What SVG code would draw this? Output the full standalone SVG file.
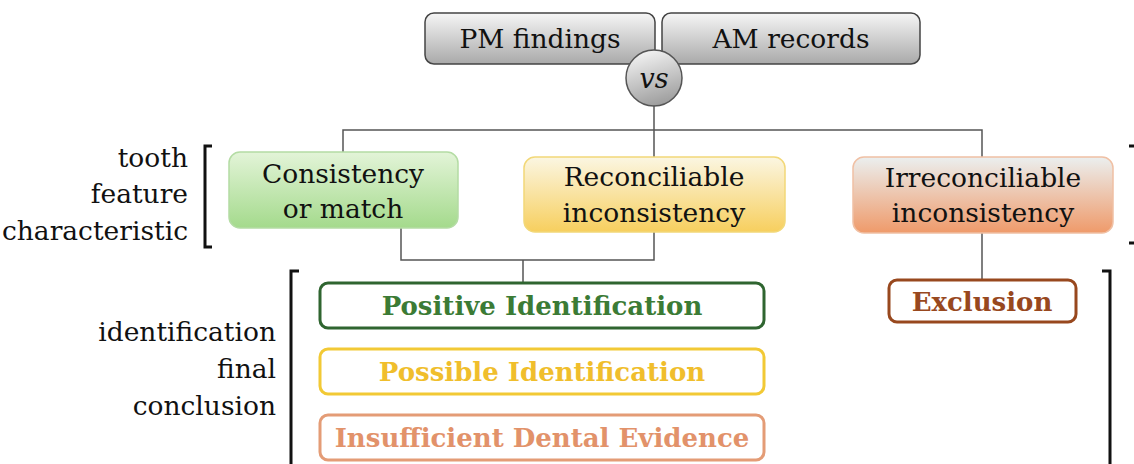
<svg xmlns="http://www.w3.org/2000/svg" width="1134" height="464" viewBox="0 0 1134 464">
<defs>
<style>
.t{font-family:"DejaVu Serif","Liberation Serif","Times New Roman",serif;font-size:26.5px;fill:#111;}
.m{text-anchor:middle;}
.r{text-anchor:end;}
.b{font-family:"DejaVu Serif","Liberation Serif","Times New Roman",serif;font-size:26px;font-weight:bold;text-anchor:middle;}
.ln{fill:none;stroke:#555;stroke-width:1.5;}
.br{fill:none;stroke:#111;stroke-width:3;}
.out{fill:#fff;stroke-width:3;}
</style>
<linearGradient id="gGray" x1="0" y1="0" x2="0" y2="1">
<stop offset="0" stop-color="#f6f6f6"/><stop offset="1" stop-color="#a9a9a9"/>
</linearGradient>
<linearGradient id="gCirc" x1="0.3" y1="0" x2="0.6" y2="1">
<stop offset="0" stop-color="#f4f4f4"/><stop offset="1" stop-color="#9c9c9c"/>
</linearGradient>
<linearGradient id="gGreen" x1="0" y1="0" x2="0" y2="1">
<stop offset="0" stop-color="#e3f4d8"/><stop offset="1" stop-color="#a4da8c"/>
</linearGradient>
<linearGradient id="gYel" x1="0" y1="0" x2="0" y2="1">
<stop offset="0" stop-color="#fbf6e2"/><stop offset="1" stop-color="#f7cf5e"/>
</linearGradient>
<linearGradient id="gOr" x1="0" y1="0" x2="0" y2="1">
<stop offset="0" stop-color="#ebefef"/><stop offset="1" stop-color="#ef9a6a"/>
</linearGradient>
</defs>
<rect width="1134" height="464" fill="#fff"/>

<g id="connectors">
<path class="ln" d="M654 105 V157"/>
<path class="ln" d="M343 152 V130 H982 V157"/>
<path class="ln" d="M401 228 V260 H654 V232"/>
<path class="ln" d="M523 260 V283"/>
<path class="ln" d="M982 233 V280"/>
</g>

<g id="brackets">
<path class="br" d="M212 146 H205 V247 H212"/>
<path class="br" d="M1129 146 H1136 V243 H1129"/>
<path class="br" d="M299 271 H291 V470"/>
<path class="br" d="M1102 271 H1110 V470"/>
</g>

<g id="labels">
<text class="t r" x="188" y="167">tooth</text>
<text class="t r" x="188" y="203">feature</text>
<text class="t r" x="188" y="240">characteristic</text>
<text class="t r" x="276" y="341">identification</text>
<text class="t r" x="276" y="378">final</text>
<text class="t r" x="276" y="415">conclusion</text>
</g>

<g id="pm">
<rect x="425" y="13" width="230" height="51" rx="9" fill="url(#gGray)" stroke="#444" stroke-width="1.5"/>
<text class="t m" x="540" y="48">PM findings</text>
</g>
<g id="am">
<rect x="662" y="13" width="258" height="51" rx="9" fill="url(#gGray)" stroke="#444" stroke-width="1.5"/>
<text class="t m" x="791" y="48">AM records</text>
</g>
<g id="vs">
<circle cx="654" cy="78" r="28" fill="url(#gCirc)" stroke="#555" stroke-width="1.5"/>
<text class="t m" x="654" y="88" style="font-style:italic;font-size:27px">vs</text>
</g>

<g id="consistency">
<rect x="229" y="152" width="229" height="76" rx="11" fill="url(#gGreen)" stroke="#b4dca4" stroke-width="1.5"/>
<text class="t m" x="343" y="183">Consistency</text>
<text class="t m" x="343" y="218">or match</text>
</g>
<g id="reconciliable">
<rect x="524" y="157" width="261" height="75" rx="11" fill="url(#gYel)" stroke="#f2d878" stroke-width="1.5"/>
<text class="t m" x="654" y="186">Reconciliable</text>
<text class="t m" x="654" y="222">inconsistency</text>
</g>
<g id="irreconciliable">
<rect x="853" y="157" width="260" height="76" rx="11" fill="url(#gOr)" stroke="#f0c0a4" stroke-width="1.5"/>
<text class="t m" x="983" y="187">Irreconciliable</text>
<text class="t m" x="983" y="222">inconsistency</text>
</g>

<g id="positive">
<rect class="out" x="320" y="283" width="444" height="45" rx="8" stroke="#2f6530"/>
<text class="b" x="542" y="315" fill="#3b7b35">Positive Identification</text>
</g>
<g id="possible">
<rect class="out" x="320" y="349" width="444" height="45" rx="8" stroke="#f2c935"/>
<text class="b" x="542" y="381" fill="#f0be2c">Possible Identification</text>
</g>
<g id="insufficient">
<rect class="out" x="320" y="415" width="444" height="45" rx="8" stroke="#e49c76"/>
<text class="b" x="542" y="447" fill="#e2926a">Insufficient Dental Evidence</text>
</g>
<g id="exclusion">
<rect class="out" x="889" y="280" width="187" height="42" rx="8" stroke="#98481e"/>
<text class="b" x="982" y="311" fill="#98481e">Exclusion</text>
</g>
</svg>
